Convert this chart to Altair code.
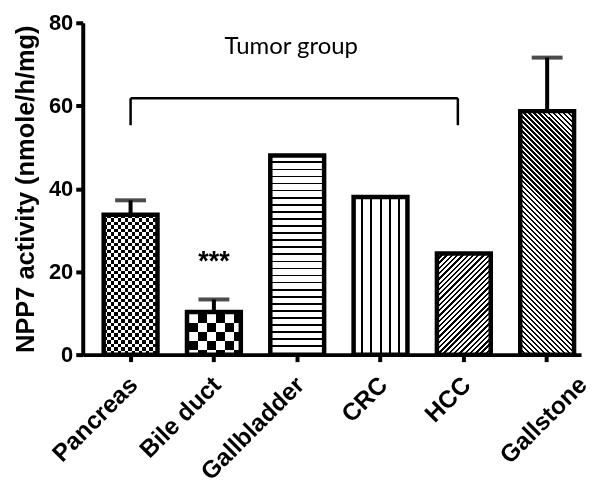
import altair as alt
import pandas as pd

categories = ["Pancreas", "Bile duct", "Gallbladder", "CRC", "HCC", "Gallstone"]
values = [33.7, 10.3, 48.0, 38.0, 24.4, 58.7]
err_tops = [37.2, 13.3, None, None, None, 71.6]
y_ticks = [0, 20, 40, 60, 80]

W_PLOT, H_PLOT = 500, 333
PX = H_PLOT / 80.0
BAR_W = 54

df = pd.DataFrame({"cat": categories, "val": values, "top": err_tops})
err_df = df.dropna(subset=["top"])

x_scale = alt.Scale(domain=categories, paddingInner=0.354, paddingOuter=0.1675, align=0.75)
y_scale = alt.Scale(domain=[0, 80], nice=False, zero=True)

label_offset = {"condition": {"test": "datum.value === 'Gallstone'", "value": 28}, "value": -5}

X = alt.X("cat:N", scale=x_scale, sort=categories,
          axis=alt.Axis(title=None, labelAngle=-45, labelAlign="right", labelBaseline="top",
                        labelFontSize=24.5, labelFontWeight="bold", labelPadding=11,
                        labelOffset=label_offset,
                        labelFont="Liberation Sans", tickSize=7, tickWidth=4, domainWidth=4,
                        domainColor="black", tickColor="black", labelColor="black", grid=False))
Y = alt.Y("val:Q", scale=y_scale,
          axis=alt.Axis(title="NPP7 activity (nmole/h/mg)", values=y_ticks, grid=False,
                        titleFontSize=25.5, titleFontWeight="bold", titleFont="Liberation Sans",
                        titleColor="black", titlePadding=10,
                        labelFontSize=22, labelFontWeight="bold", labelFont="Liberation Sans",
                        labelPadding=3, tickSize=7, tickWidth=4, domainWidth=4,
                        domainColor="black", tickColor="black", labelColor="black"))


def stripe_stops(total, period, lw, line, bg, phase=0.0):
    st = [{"offset": 0.0, "color": bg}]
    pos = phase
    while pos < total:
        a = max(pos, 0.0) / total
        b = min(pos + lw, total) / total
        a, b = round(a, 5), round(b, 5)
        st += [{"offset": a, "color": bg}, {"offset": a, "color": line},
               {"offset": b, "color": line}, {"offset": b, "color": bg}]
        pos += period
    st.append({"offset": 1.0, "color": bg})
    return st


def hgrad(total, period, lw, line="black", bg="white", phase=0.0):
    return alt.LinearGradient(gradient="linear", x1=0, y1=0, x2=0, y2=1,
                              stops=stripe_stops(total, period, lw, line, bg, phase))


def vgrad(total, period, lw, line="black", bg="white", phase=0.0):
    return alt.LinearGradient(gradient="linear", x1=0, y1=0, x2=1, y2=0,
                              stops=stripe_stops(total, period, lw, line, bg, phase))


def diag_grad(w, h, period, lw, forward=True):
    k = (w + h) / (w * w + h * h)
    total = w + h
    st = stripe_stops(total, period, lw, "black", "white", 0.0)
    if forward:
        return alt.LinearGradient(gradient="linear", x1=0, y1=0, x2=w * k, y2=h * k, stops=st)
    return alt.LinearGradient(gradient="linear", x1=0, y1=1, x2=w * k, y2=1 - h * k, stops=st)


base = alt.Chart(df)


def bar_layer(cat, fill, blend=None):
    kw = dict(fill=fill, strokeWidth=0)
    if blend:
        kw["blend"] = blend
    return base.transform_filter(alt.datum.cat == cat).mark_bar(**kw).encode(x=X, y=Y)


layers = []
h = {c: v * PX for c, v in zip(categories, values)}
# Pancreas: fine checkerboard
layers.append(bar_layer("Pancreas", hgrad(h["Pancreas"], 7.0, 3.5)))
layers.append(bar_layer("Pancreas", vgrad(BAR_W, 7.0, 3.5, line="white", bg="black"), blend="difference"))
# Bile duct: coarse checkerboard
layers.append(bar_layer("Bile duct", hgrad(h["Bile duct"], 18.0, 9.0, phase=2)))
layers.append(bar_layer("Bile duct", vgrad(BAR_W, 18.0, 9.0, line="white", bg="black", phase=2), blend="difference"))
# Gallbladder: horizontal lines
layers.append(bar_layer("Gallbladder", hgrad(h["Gallbladder"], 7.1, 1.7, phase=6)))
# CRC: vertical lines
layers.append(bar_layer("CRC", vgrad(BAR_W, 9.3, 2.0, phase=7.5)))
# HCC: forward diagonal
layers.append(bar_layer("HCC", diag_grad(BAR_W, h["HCC"], 5.3, 2.4, forward=True)))
# Gallstone: back diagonal
layers.append(bar_layer("Gallstone", diag_grad(BAR_W, h["Gallstone"], 5.0, 2.3, forward=False)))

outline = base.mark_bar(fill="white", fillOpacity=0, stroke="black", strokeWidth=4.5).encode(x=X, y=Y)

err_rule = alt.Chart(err_df).mark_rule(color="black", strokeWidth=4).encode(
    x=alt.X("cat:N", scale=x_scale, sort=categories), y=alt.Y("val:Q", scale=y_scale), y2="top:Q")
err_cap = alt.Chart(err_df).mark_tick(color="black", thickness=4, size=31, orient="horizontal").encode(
    x=alt.X("cat:N", scale=x_scale, sort=categories), y=alt.Y("top:Q", scale=y_scale))

bracket_df = pd.DataFrame({"a": ["Pancreas"], "b": ["HCC"], "yh": [61.8], "yl": [55.3]})
br_h = alt.Chart(bracket_df).mark_rule(color="black", strokeWidth=2.5, x2Offset=-6).encode(
    x=alt.X("a:N", scale=x_scale, sort=categories), x2="b:N", y=alt.Y("yh:Q", scale=y_scale))
br_l = alt.Chart(bracket_df).mark_rule(color="black", strokeWidth=2.5).encode(
    x=alt.X("a:N", scale=x_scale, sort=categories), y=alt.Y("yh:Q", scale=y_scale), y2="yl:Q")
br_r = alt.Chart(bracket_df).mark_rule(color="black", strokeWidth=2.5, xOffset=-6).encode(
    x=alt.X("b:N", scale=x_scale, sort=categories), y=alt.Y("yh:Q", scale=y_scale), y2="yl:Q")

label_df = pd.DataFrame({"cat": ["Gallbladder"], "y": [74.2], "t": ["Tumor group"]})
tumor = alt.Chart(label_df).mark_text(font="Lato", fontSize=24, color="black", dx=-6,
                                      baseline="middle", align="center").encode(
    x=alt.X("cat:N", scale=x_scale, sort=categories), y=alt.Y("y:Q", scale=y_scale), text="t:N")

star_df = pd.DataFrame({"cat": ["Bile duct"], "y": [20.4], "t": ["***"]})
stars = alt.Chart(star_df).mark_text(font="Liberation Sans", fontSize=27, fontWeight="bold",
                                     color="black", baseline="alphabetic", align="center").encode(
    x=alt.X("cat:N", scale=x_scale, sort=categories), y=alt.Y("y:Q", scale=y_scale), text="t:N")

chart = alt.layer(*layers, outline, err_rule, err_cap, br_h, br_l, br_r, tumor, stars).properties(
    width=W_PLOT, height=H_PLOT, background="white",
    padding={"left": 5, "top": 3, "right": 0, "bottom": 0},
).configure_view(stroke=None, strokeOpacity=0).configure_axis(grid=False)

chart.save("out.html", embed_options={"renderer": "svg", "actions": False})
